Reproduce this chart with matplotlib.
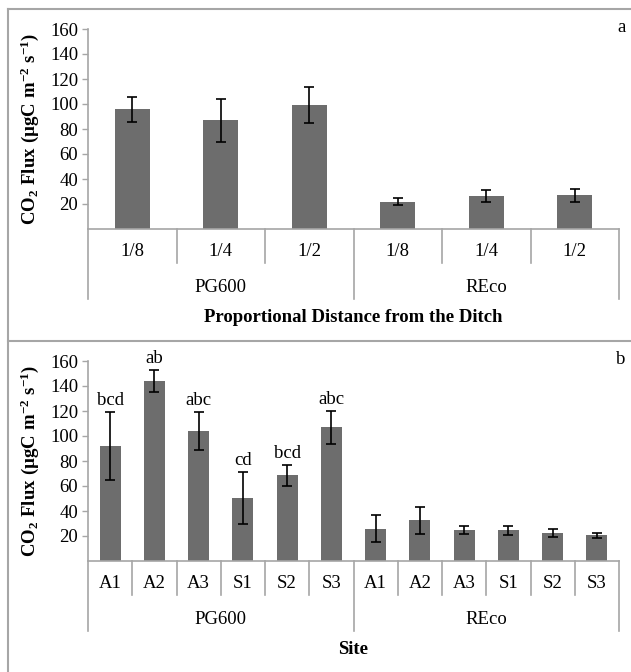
import matplotlib
matplotlib.use("Agg")
import matplotlib.pyplot as plt
from matplotlib.lines import Line2D

plt.rcParams["font.family"] = ["Liberation Serif", "DejaVu Serif"]
plt.rcParams["mathtext.fontset"] = "custom"
plt.rcParams["mathtext.rm"] = "Liberation Serif:bold"
plt.rcParams["mathtext.it"] = "Liberation Serif:bold"
plt.rcParams["mathtext.bf"] = "Liberation Serif:bold"

# Panel a: distance from the ditch
dist_labels = ["1/8", "1/4", "1/2", "1/8", "1/4", "1/2"]
dist_groups = ["PG600", "REco"]
dist_flux = [96, 87, 99, 22, 26.5, 27]
dist_err = [10, 17, 14.5, 3, 5, 5]

# Panel b: site
site_labels = ["A1", "A2", "A3", "S1", "S2", "S3", "A1", "A2", "A3", "S1", "S2", "S3"]
site_groups = ["PG600", "REco"]
site_flux = [92, 144, 104, 50.5, 68.5, 107, 26, 32.5, 25, 24.5, 22.5, 20.5]
site_err = [27, 9, 15, 20.5, 8.5, 13, 10.5, 10.5, 3, 3.5, 3.5, 2]
site_letters = ["bcd", "ab", "abc", "cd", "bcd", "abc", "", "", "", "", "", ""]

W, H = 631, 672
fig = plt.figure(figsize=(W / 100, H / 100), dpi=100)

BAR = "#6d6d6d"
GRID = "#a6a6a6"
FS = 13.5
AX_L, AX_R, AX_H = 88, 619, 200


def px_axes(bottom_px):
    # bottom_px = y pixel (from top) of the x axis line
    return fig.add_axes([AX_L / W, (H - bottom_px) / H, (AX_R - AX_L) / W, AX_H / H])


def draw_panel(ax, labels, groups, vals, errs, width, title, tag):
    n = len(labels)
    x = list(range(n))
    ax.bar(x, vals, width=width, color=BAR, zorder=2)
    ax.errorbar(x, vals, yerr=errs, fmt="none", ecolor="black", elinewidth=1.2,
                capsize=3.5, capthick=1.2, zorder=3)
    ax.set_xlim(-0.5, n - 0.5)
    ax.set_ylim(0, 160)
    ax.set_yticks(range(20, 161, 20))
    ax.tick_params(axis="y", direction="out", length=4, width=1, color=GRID,
                   labelsize=FS, pad=3)
    ax.set_xticks([])
    for s in ["top", "right"]:
        ax.spines[s].set_visible(False)
    for s in ["left", "bottom"]:
        ax.spines[s].set_color(GRID)
        ax.spines[s].set_linewidth(1.2)

    tr = ax.get_xaxis_transform()
    f = lambda p: -p / AX_H
    per = n // len(groups)
    # category labels and dividers
    for i, lab in enumerate(labels):
        ax.text(i, f(23), lab, transform=tr, ha="center", va="center", fontsize=FS)
    for b in range(n + 1):
        depth = 70 if b % per == 0 else 34
        ax.add_line(Line2D([b - 0.5, b - 0.5], [0, f(depth)], transform=tr,
                           color=GRID, lw=1.2, clip_on=False))
    for g, gname in enumerate(groups):
        ax.text(g * per + (per - 1) / 2, f(58), gname, transform=tr, ha="center",
                va="center", fontsize=FS)
    ax.text((n - 1) / 2, f(88), title, transform=tr, ha="center", va="center",
            fontsize=FS, fontweight="bold")
    ax.text(1.0, 0.0, tag, transform=ax.transAxes, fontsize=FS)
    return ax


ax1 = px_axes(229)
draw_panel(ax1, dist_labels, dist_groups, dist_flux, dist_err, 0.4,
           "Proportional Distance from the Ditch", "")
fig.text(622 / W, 1 - 28 / H, "a", ha="center", va="center", fontsize=FS)

ax2 = px_axes(561)
draw_panel(ax2, site_labels, site_groups, site_flux, site_err, 0.48, "Site", "")
fig.text(621 / W, 1 - 360 / H, "b", ha="center", va="center", fontsize=FS)
for i, let in enumerate(site_letters):
    if let:
        ax2.annotate(let, (i, site_flux[i] + site_err[i]), xytext=(0, 2),
                     textcoords="offset points", ha="center", va="bottom", fontsize=FS)

ylab = r"$\mathrm{CO_2\ Flux\ (µgC\ m^{-2}\ s^{-1})}$"
for ax_bottom in (229, 561):
    fig.text(30 / W, 1 - (ax_bottom - 100) / H, ylab, rotation=90, ha="center",
             va="center", fontsize=FS)

# outer frame lines
for xs, ys in [([8, 8], [9, H]), ([8, W], [9, 9]), ([8, W], [341, 341])]:
    fig.add_artist(Line2D([v / W for v in xs], [1 - v / H for v in ys],
                          transform=fig.transFigure, color=GRID, lw=1.5))

fig.savefig("out.png", dpi=100)
